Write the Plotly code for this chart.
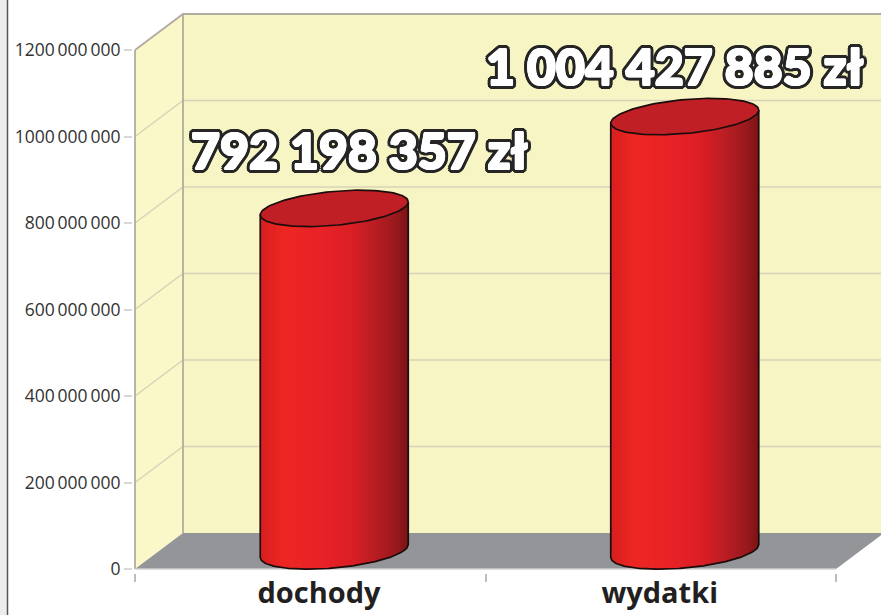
import numpy as np
import plotly.graph_objects as go

# --- data ---
categories = ["dochody", "wydatki"]
values = [792198357, 1004427885]
y_ticks = [0, 200000000, 400000000, 600000000, 800000000, 1000000000, 1200000000]
y_tick_labels = ["0", "200\u2009000\u2009000", "400\u2009000\u2009000", "600\u2009000\u2009000",
                 "800\u2009000\u2009000", "1000\u2009000\u2009000", "1200\u2009000\u2009000"]
value_labels = ["792 198 357 zł", "1 004 427 885 zł"]

# --- layout geometry (pixels) ---
W, H = 881, 615
L, R, T, B = 133, 881, 12, 573
X0_PX, UNIT_PX = 135.0, 350.5
Y0_PX, YMAX_PX = 569.0, 50.0
Y_MAX = 1.2e9
VPX = Y_MAX / (Y0_PX - YMAX_PX)          # value per pixel
dx = 48 / UNIT_PX
dy = 36 * VPX
a = 74 / UNIT_PX
KY = 6.5 * VPX
BY = 17 * VPX
xr = [(L - X0_PX) / UNIT_PX, (R - X0_PX) / UNIT_PX]
yr = [(Y0_PX - B) * VPX, (Y0_PX - T) * VPX]
xmax = xr[1] + 0.05

WALL = "#f8f5c4"
SIDE = "#faf7c8"
FLOOR = "#939598"
EDGE = "#b2aca0"
GRID = "#d8d3b8"
OUT = "#1c0c0c"
TOPC = "#c01f26"
stops = [(0.0, (214, 32, 32)), (0.16, (238, 39, 35)), (0.42, (232, 35, 40)), (0.62, (219, 31, 38)),
         (0.78, (184, 30, 36)), (0.92, (152, 26, 30)), (1.0, (122, 20, 22))]


def grad(f):
    xs = [s[0] for s in stops]
    return "rgb(%d,%d,%d)" % tuple(np.interp(f, xs, [s[1][i] for s in stops]) for i in range(3))


fig = go.Figure()


def poly(x, y, color):
    fig.add_trace(go.Scatter(x=x, y=y, mode="lines", fill="toself", fillcolor=color,
                             line=dict(width=0), hoverinfo="skip", showlegend=False))


def line(x, y, color, width=1.5):
    fig.add_trace(go.Scatter(x=x, y=y, mode="lines", line=dict(color=color, width=width),
                             hoverinfo="skip", showlegend=False))


top_v = y_ticks[-1]
# walls and floor
poly([dx, xmax, xmax, dx, dx], [dy, dy, top_v + dy, top_v + dy, dy], WALL)
poly([0, dx, dx, 0, 0], [0, dy, top_v + dy, top_v, 0], SIDE)
poly([0, dx, 2 + dx, 2, 0], [0, dy, dy, 0, 0], FLOOR)

# grid
for v in y_ticks[1:-1]:
    line([0, dx, xmax], [v, v + dy, v + dy], GRID)
line([0, dx, xmax], [top_v, top_v + dy, top_v + dy], EDGE, 1.8)
line([0, 0], [0, top_v], EDGE, 1.8)
line([dx, dx], [dy, top_v + dy], EDGE, 1.8)
line([0, 2], [0, 0], "#d0d0d0", 1.5)

# cylinders
n = 74
for i, v in enumerate(values):
    cx = i + 0.5 + dx / 2
    c_top = v + dy / 2
    c_bot = dy / 2
    us = np.linspace(-1, 1, n + 1)
    front = lambda c, u: c + KY * u - BY * np.sqrt(np.clip(1 - u * u, 0, 1))
    for j in range(n):
        u0, u1 = us[j], us[j + 1]
        ue = min(u1 + 0.012, 1)
        poly([cx + a * u0, cx + a * ue, cx + a * ue, cx + a * u0, cx + a * u0],
             [front(c_bot, u0), front(c_bot, ue), front(c_top, ue), front(c_top, u0), front(c_bot, u0)],
             grad((u0 + u1 + 2) / 4))
    ub = np.linspace(-1, 1, 121)
    line(list(np.r_[cx - a, cx + a * ub, cx + a]),
         list(np.r_[front(c_top, -1), front(c_bot, ub), front(c_top, 1)]), OUT, 1.7)
    t = np.linspace(0, 2 * np.pi, 121)
    ex = cx + a * np.cos(t)
    ey = c_top + KY * np.cos(t) + BY * np.sin(t)
    fig.add_trace(go.Scatter(x=ex, y=ey, mode="lines", fill="toself", fillcolor=TOPC,
                             line=dict(color=OUT, width=1.7), hoverinfo="skip", showlegend=False))

# big value labels: white glyphs thickened by an inner white ring, then a dark outer ring
shift = [(48.75, 76), (14, 69)]
inner = ",".join(f"{0.9*np.cos(k*np.pi/4):.2f}px {0.9*np.sin(k*np.pi/4):.2f}px 0 #ffffff" for k in range(8))
outer = ",".join(f"{r*np.cos(k*np.pi/8):.2f}px {r*np.sin(k*np.pi/8):.2f}px 0 #262626"
                 for r in (2.6, 4.0) for k in range(16))
stroke = inner + "," + outer
for i, v in enumerate(values):
    fig.add_annotation(x=i + 0.5, y=v, text=value_labels[i], xref="x", yref="y", showarrow=False,
                       xshift=shift[i][0], yshift=shift[i][1],
                       font=dict(family="Lato", size=50, color="white", weight=900, shadow=stroke))

fig.update_layout(
    width=W, height=H, paper_bgcolor="white", plot_bgcolor="white",
    margin=dict(l=L, r=W - R, t=T, b=H - B), showlegend=False,
    font=dict(family="Open Sans", color="#333333"),
    xaxis=dict(range=xr, showgrid=False, zeroline=False, showline=False,
               tickmode="array", tickvals=[0.525, 1.497], ticktext=categories, ticks="",
               tickfont=dict(family="Open Sans", size=29, color="#231f20", weight=700),
               minor=dict(tickmode="array", tickvals=[0, 1, 2], ticks="outside", ticklen=8,
                          tickcolor="#bdbdbd", tickwidth=1.5, showgrid=False)),
    yaxis=dict(range=yr, showgrid=False, zeroline=False, showline=False,
               tickmode="array", tickvals=y_ticks, ticktext=y_tick_labels, ticks="outside",
               ticklen=8, tickcolor="#d8d8d8", tickwidth=1.5,
               tickfont=dict(family="Open Sans", size=17.5, color="#333333", weight=500)),
    shapes=[
        dict(type="rect", xref="paper", yref="paper", x0=-L / (R - L), x1=(7 - L) / (R - L), y0=-0.1, y1=1.1,
             fillcolor="#ececec", line=dict(width=0), layer="above"),
        dict(type="line", xref="paper", yref="paper", x0=(7.5 - L) / (R - L), x1=(7.5 - L) / (R - L), y0=-0.1, y1=1.1,
             line=dict(color="#555555", width=1.5), layer="above"),
    ],
)

fig.write_html("out.html", config={"displayModeBar": False},
               post_script="document.body.style.margin='0';document.body.style.overflow='hidden';")
